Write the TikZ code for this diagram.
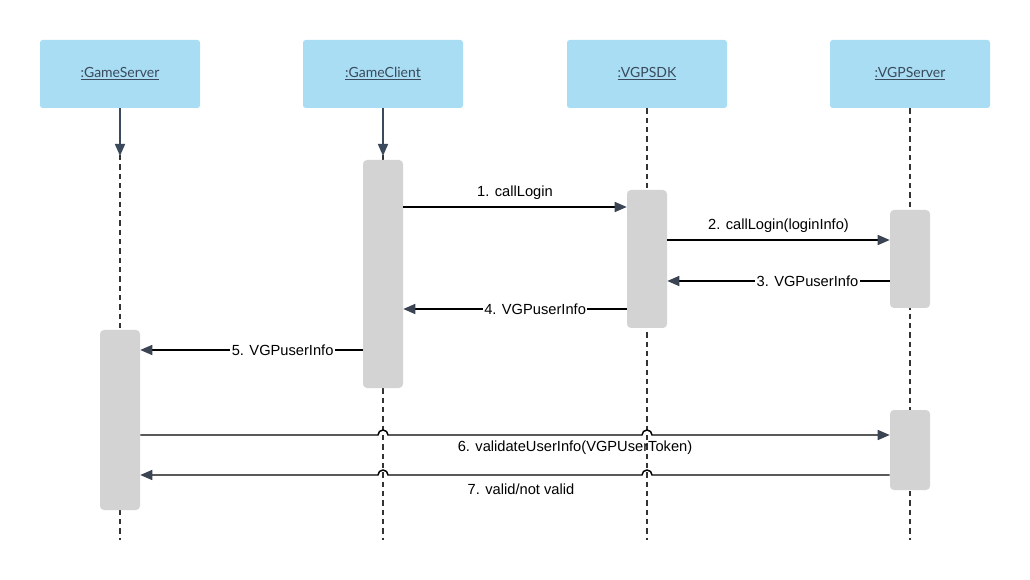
\documentclass[tikz,border=0pt]{standalone}
\usepackage{fontspec}
\setmainfont{Liberation Sans}
\newfontfamily\headfont{Lato}
\usetikzlibrary{arrows.meta}
\definecolor{boxblue}{HTML}{A9DDF3}
\definecolor{bargray}{HTML}{D3D3D3}
\definecolor{headtext}{HTML}{3A4A5C}
\definecolor{tipdark}{HTML}{3B4452}
\tikzset{
	head/.style={fill=boxblue, rounded corners=2pt, minimum width=120pt, minimum height=51pt, inner sep=0pt, font=\headfont\fontsize{10.5}{12}\selectfont, text=headtext},
	bar/.style={fill=bargray, rounded corners=3pt, minimum width=30pt, inner sep=0pt},
	life/.style={dashed, dash pattern=on 4pt off 3pt, line width=0.8pt, draw=black!80},
	msg/.style={line width=1.1pt, -{Triangle[width=7.5pt,length=9pt]}, draw=black, arrows={[color=tipdark]}},
	lbl/.style={font=\fontsize{11}{13}\selectfont, inner sep=1pt},
}
\begin{document}
\begin{tikzpicture}[x=0.75pt,y=-0.75pt]
	\useasboundingbox (0,0) rectangle (1030,580);

	% headers
	\node[head] (gs) at (120,74) {\underline{:GameServer}};
	\node[head] (gc) at (383,74) {\underline{:GameClient}};
	\node[head] (sdk) at (647,74) {\underline{:VGPSDK}};
	\node[head] (vs) at (910,74) {\underline{:VGPServer}};

	% lifelines
	\foreach \n in {gs,gc,sdk,vs}
		\draw[life] (\n.south) -- (\n.south |- 0,540);
	\draw[line width=1.1pt, -{Triangle[width=7.5pt,length=9pt]}, draw=headtext] (gs.south) -- (gs.south |- 0,156);
	\draw[line width=1.1pt, -{Triangle[width=7.5pt,length=9pt]}, draw=headtext] (gc.south) -- (gc.south |- 0,156);

	% activation bars
	\node[bar, minimum height=171pt] (gcbar) at (383,274) {};
	\node[bar, minimum height=103.5pt] (sdkbar) at (647,259) {};
	\node[bar, minimum height=73.5pt] (vsbar1) at (910,259) {};
	\node[bar, minimum height=60pt] (vsbar2) at (910,450) {};
	\node[bar, minimum height=135pt] (gsbar) at (120,420) {};

	% messages
	\draw[msg] (gcbar.east |- 0,207) -- (sdkbar.west |- 0,207)
		node[lbl, midway, above=4pt] {1. callLogin};
	\draw[msg] (sdkbar.east |- 0,240) -- (vsbar1.west |- 0,240)
		node[lbl, midway, above=4pt] {2. callLogin(loginInfo)};
	\draw[msg] (vsbar1.west |- 0,281) -- (sdkbar.east |- 0,281)
		node[lbl, fill=white, pos=0.37] {3. VGPuserInfo};
	\draw[msg] (sdkbar.west |- 0,309) -- (gcbar.east |- 0,309)
		node[lbl, fill=white, pos=0.41] {4. VGPuserInfo};
	\draw[msg] (gcbar.west |- 0,350) -- (gsbar.east |- 0,350)
		node[lbl, fill=white, pos=0.36] {5. VGPuserInfo};

	\draw[msg] (gsbar.east |- 0,435) -- (378,435) arc[start angle=180, end angle=0, radius=3.75pt]
		-- (642,435) arc[start angle=180, end angle=0, radius=3.75pt] -- (vsbar2.west |- 0,435);
	\node[lbl] (m6) at (575,448) {6. validateUserInfo(VGPUserToken)};
	\draw[msg] (vsbar2.west |- 0,475) -- (652,475) arc[start angle=0, end angle=180, radius=3.75pt]
		-- (388,475) arc[start angle=0, end angle=180, radius=3.75pt] -- (gsbar.east |- 0,475);
	\node[lbl] (m7) at (521,489) {7. valid/not valid};
\end{tikzpicture}
\end{document}
